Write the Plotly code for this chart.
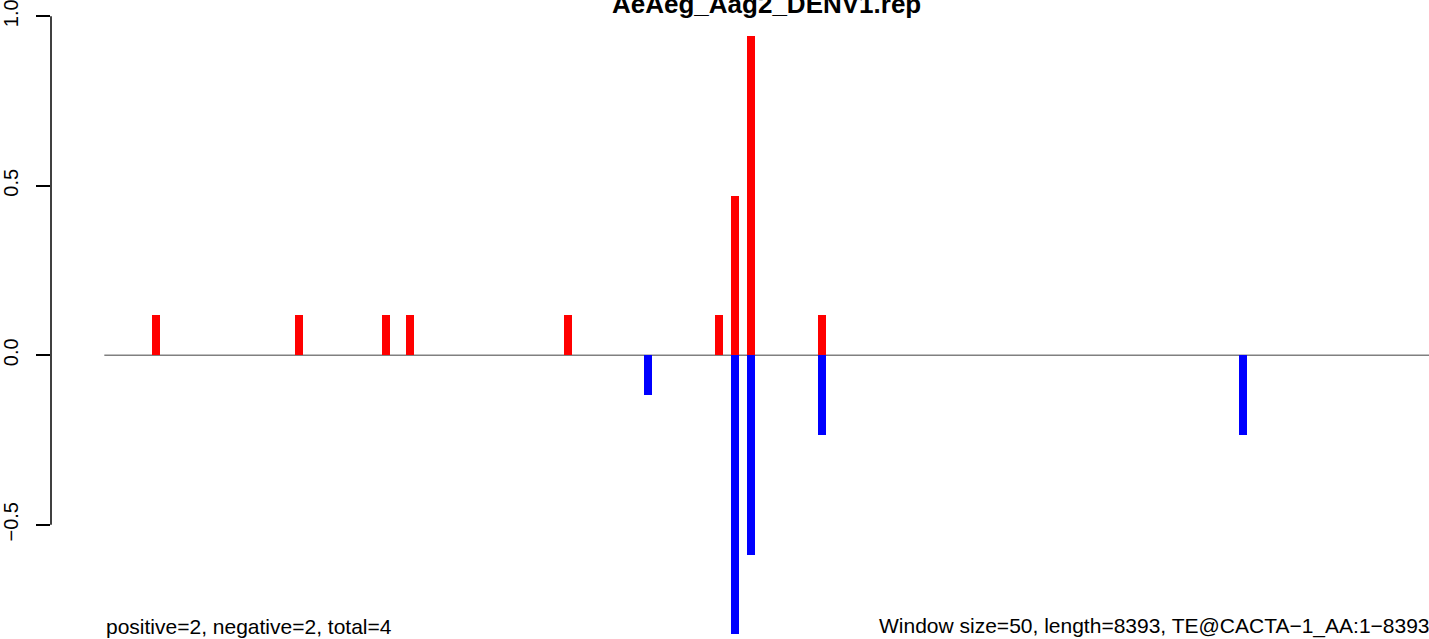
import plotly.graph_objects as go

# ---- data ----
title_text = "AeAeg_Aag2_DENV1.rep"
seq_length = 8393
window_size = 50

pos_x = [325, 1225, 1775, 1925, 2925, 3875, 3975, 4075, 4525]
pos_y = [0.1176, 0.1176, 0.1176, 0.1176, 0.1176, 0.1176, 0.4706, 0.9412, 0.1176]

neg_x = [3425, 3975, 4075, 4525, 7175]
neg_y = [-0.1176, -0.8235, -0.5882, -0.2353, -0.2353]

y_ticks = [-0.5, 0.0, 0.5, 1.0]
y_tick_labels = ["\u22120.5", "0.0", "0.5", "1.0"]

left_note = "positive=2, negative=2, total=4"
right_note = "Window size=50, length=8393, TE@CACTA\u22121_AA:1\u22128393"

FONT = "Liberation Sans, Arial, Helvetica, sans-serif"

fig = go.Figure()
fig.add_trace(go.Bar(x=pos_x, y=pos_y, width=window_size,
                     marker=dict(color="#FF0000", line=dict(width=0)),
                     showlegend=False))
fig.add_trace(go.Bar(x=neg_x, y=neg_y, width=window_size,
                     marker=dict(color="#0000FF", line=dict(width=0)),
                     showlegend=False))

# baseline under the bars
fig.add_shape(type="line", xref="x", yref="y", x0=0, x1=seq_length, y0=0, y1=0,
              line=dict(color="#808080", width=1.5), layer="below")
# R-style y axis line spanning the tick range
fig.add_shape(type="line", xref="paper", yref="y", x0=0, x1=0,
              y0=min(y_ticks), y1=max(y_ticks),
              line=dict(color="black", width=1.5), layer="above")

# title (partly cut at the top, as in the reference)
fig.add_annotation(text="<b>" + title_text + "</b>", x=seq_length / 2 - 20, xref="x",
                   y=1.036, yref="y", xanchor="center", yanchor="middle",
                   showarrow=False, font=dict(family=FONT, size=26, color="black"))

fig.add_annotation(text=left_note, x=0, xref="x", y=-0.80, yref="y",
                   xanchor="left", yanchor="middle", showarrow=False,
                   font=dict(family=FONT, size=21, color="black"))
fig.add_annotation(text=right_note, x=1.0022, xref="paper", y=-0.80, yref="y",
                   xanchor="right", yanchor="middle", showarrow=False,
                   font=dict(family=FONT, size=21, color="black"))

fig.update_layout(
    width=1429, height=639,
    margin=dict(l=51, r=0, t=0, b=0),
    paper_bgcolor="white", plot_bgcolor="white",
    barmode="overlay", bargap=0,
    font=dict(family=FONT, size=20, color="black"),
    xaxis=dict(range=[-336, 8349], visible=False, showgrid=False, zeroline=False),
    yaxis=dict(range=[-0.837, 1.048], showgrid=False, zeroline=False, showline=False,
               tickmode="array", tickvals=y_ticks, ticktext=y_tick_labels,
               ticks="outside", ticklen=14, tickwidth=1.5, tickcolor="black",
               tickangle=-90, ticklabelstandoff=10, ticklabeloverflow="allow",
               tickfont=dict(family=FONT, size=20, color="black")),
)

fig.write_html("out.html",
               config={"displayModeBar": False},
               post_script="document.body.style.margin='0';document.body.style.padding='0';")
